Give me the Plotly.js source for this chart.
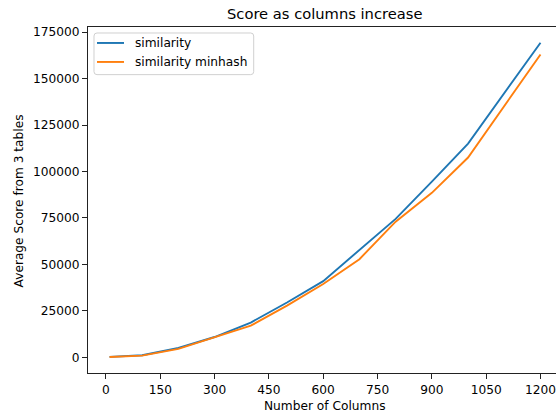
<!DOCTYPE html>
<html>
<head>
<meta charset="utf-8">
<script src="https://cdn.plot.ly/plotly-3.0.1.min.js"></script>
<style>html,body{margin:0;padding:0;background:#fff;}#chart{width:556px;height:413px;overflow:hidden;}</style>
</head>
<body>
<div id="chart"></div>
<script>
const columns = [10, 100, 200, 300, 400, 500, 600, 700, 800, 900, 1000, 1200];
const similarity = [200, 1100, 5000, 10900, 18700, 29500, 41000, 57500, 74500, 94500, 115000, 169300];
const similarityMinhash = [150, 900, 4500, 10600, 17000, 27800, 39400, 52800, 73000, 88500, 107500, 163000];
const seriesNames = ["similarity", "similarity minhash"];
const seriesColors = ["#1f77b4", "#ff7f0e"];
const xTicks = [0, 150, 300, 450, 600, 750, 900, 1050, 1200];
const yTicks = [0, 25000, 50000, 75000, 100000, 125000, 150000, 175000];

const font = "DejaVu Sans, sans-serif";
// plot area in pixels
const L = 88, R = 556, T = 27, B = 373.5;
const px = v => (v - L) / (R - L);
const py = v => (B - v) / (B - T);

const traces = [
  {x: columns, y: similarity, name: seriesNames[0], type: "scatter", mode: "lines",
   line: {color: seriesColors[0], width: 1.9}},
  {x: columns, y: similarityMinhash, name: seriesNames[1], type: "scatter", mode: "lines",
   line: {color: seriesColors[1], width: 1.9}}
];

// manual legend (matplotlib style)
const lg = {l: 94, r: 253.7, t: 33, b: 74.7, rad: 3};
function roundedPath(b) {
  const r = b.rad;
  const X = v => px(v).toFixed(5), Y = v => py(v).toFixed(5);
  return `M${X(b.l + r)},${Y(b.t)} L${X(b.r - r)},${Y(b.t)} Q${X(b.r)},${Y(b.t)} ${X(b.r)},${Y(b.t + r)} ` +
    `L${X(b.r)},${Y(b.b - r)} Q${X(b.r)},${Y(b.b)} ${X(b.r - r)},${Y(b.b)} ` +
    `L${X(b.l + r)},${Y(b.b)} Q${X(b.l)},${Y(b.b)} ${X(b.l)},${Y(b.b - r)} ` +
    `L${X(b.l)},${Y(b.t + r)} Q${X(b.l)},${Y(b.t)} ${X(b.l + r)},${Y(b.t)} Z`;
}
const rowY = [43, 62];
const shapes = [
  {type: "path", xref: "paper", yref: "paper", path: roundedPath(lg),
   fillcolor: "rgba(255,255,255,0.8)", line: {color: "#d0d0d0", width: 1}}
];
const annotations = [];
seriesNames.forEach((n, i) => {
  shapes.push({type: "line", xref: "paper", yref: "paper",
    x0: px(97), x1: px(124), y0: py(rowY[i]), y1: py(rowY[i]),
    line: {color: seriesColors[i], width: 1.9}});
  annotations.push({text: n, xref: "paper", yref: "paper", x: px(132.7), y: py(rowY[i] + 0.5),
    xanchor: "left", yanchor: "middle", showarrow: false,
    font: {family: font, size: 12.2, color: "#000"}});
});
annotations.push(
  {text: "Score as columns increase", xref: "paper", yref: "paper",
   x: px(324.6), y: py(13.5), xanchor: "center", yanchor: "middle",
   showarrow: false, font: {family: font, size: 14.7, color: "#000"}},
  {text: "Number of Columns", xref: "paper", yref: "paper",
   x: px(324.7), y: py(406.5), xanchor: "center", yanchor: "middle",
   showarrow: false, font: {family: font, size: 12.2, color: "#000"}},
  {text: "Average Score from 3 tables", xref: "paper", yref: "paper", textangle: -90,
   x: px(18.7), y: py(201), xanchor: "center", yanchor: "middle",
   showarrow: false, font: {family: font, size: 12.2, color: "#000"}}
);

const layout = {
  width: 556, height: 413,
  margin: {l: L, r: 556 - R, t: T, b: 413 - B, pad: 0},
  paper_bgcolor: "#fff", plot_bgcolor: "#fff",
  font: {family: font, size: 12, color: "#000"},
  showlegend: false,
  xaxis: {range: [-49.5, 1242.8], tickvals: xTicks, ticktext: xTicks.map(String),
    showgrid: false, zeroline: false, showline: true, linecolor: "#222", linewidth: 1,
    mirror: true, ticks: "outside", ticklen: 5, tickcolor: "#222", tickwidth: 1,
    ticklabeloverflow: "allow",
    tickfont: {family: font, size: 12.2, color: "#000"}},
  yaxis: {range: [-8465, 177765], tickvals: yTicks, ticktext: yTicks.map(String),
    showgrid: false, zeroline: false, showline: true, linecolor: "#222", linewidth: 1,
    ticks: "outside", ticklen: 5, tickcolor: "#222", tickwidth: 1,
    tickfont: {family: font, size: 12.2, color: "#000"}},
  shapes: shapes,
  annotations: annotations
};
Plotly.newPlot("chart", traces, layout, {displayModeBar: false, staticPlot: true});
</script>
</body>
</html>
